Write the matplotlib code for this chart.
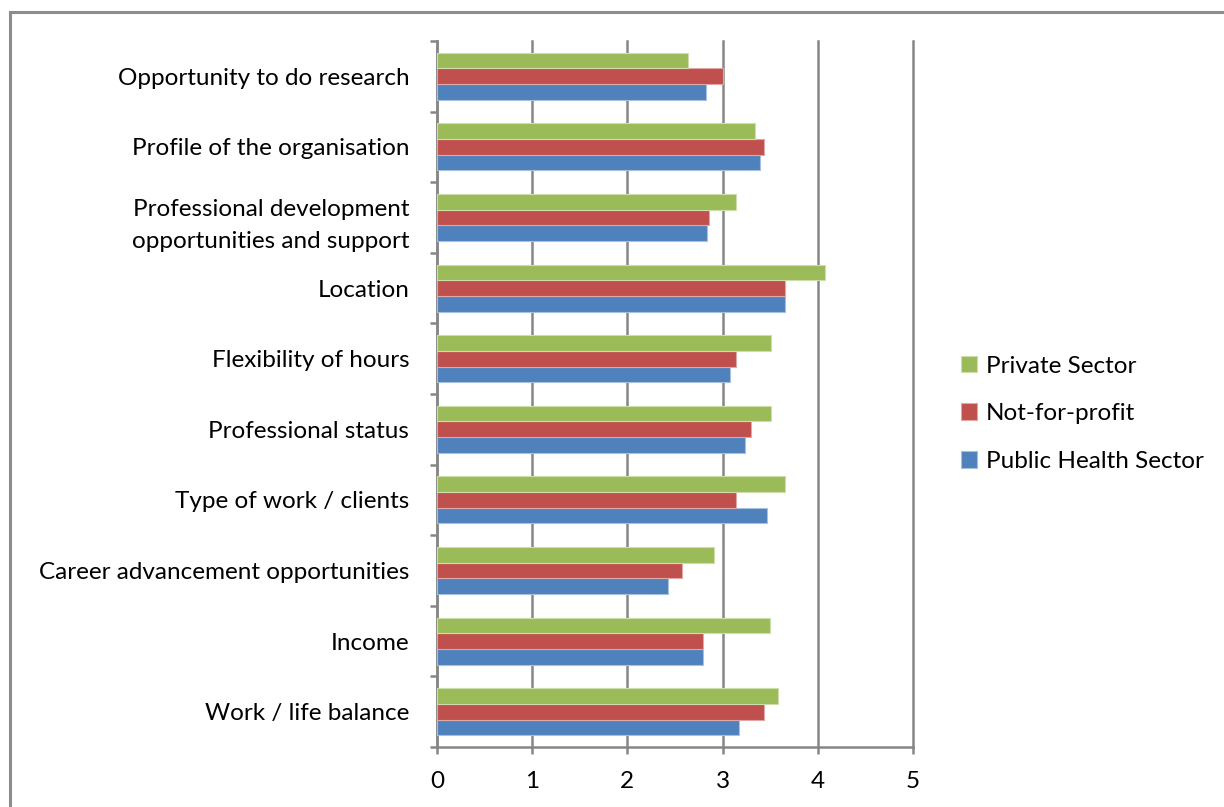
import matplotlib
matplotlib.use('Agg')
import matplotlib.pyplot as plt
import numpy as np
from matplotlib.patches import Rectangle

plt.rcParams['font.family'] = ['Lato', 'DejaVu Sans']

# Facteurs listés de bas en haut
categories = ['Work / life balance', 'Income', 'Career advancement opportunities',
              'Type of work / clients', 'Professional status', 'Flexibility of hours',
              'Location', 'Professional development\nopportunities and support',
              'Profile of the organisation', 'Opportunity to do research']
public_health = [3.17, 2.79, 2.43, 3.47, 3.23, 3.08, 3.65, 2.84, 3.39, 2.82]
not_for_profit = [3.43, 2.79, 2.57, 3.14, 3.30, 3.14, 3.65, 2.86, 3.43, 3.00]
private_sector = [3.58, 3.50, 2.91, 3.65, 3.51, 3.51, 4.07, 3.14, 3.34, 2.64]
series_names = ['Public Health Sector', 'Not-for-profit', 'Private Sector']
x_ticks = [0, 1, 2, 3, 4, 5]

couleurs = ['#4F81BD', '#C0504D', '#9BBB59']
bords = ['#A7C0DE', '#DFA8A6', '#CDDDAC']
taille = 17.5

fig = plt.figure(figsize=(12.24, 8.07), dpi=100)
ax = fig.add_axes([0.357, 0.0743, 0.389, 0.8749])

# Cadre gris autour du graphique
fig.patches.append(Rectangle((9.5 / 1224, -0.1), 1.2, 1 - 11.5 / 807 + 0.1,
                             transform=fig.transFigure, fill=False,
                             edgecolor='#8C8C8C', linewidth=2.2, zorder=0))

y = np.arange(len(categories))
h = 0.222
for i, (vals, nom) in enumerate(zip([public_health, not_for_profit, private_sector], series_names)):
    ax.barh(y + (i - 1) * h, vals, height=h, color=couleurs[i], edgecolor=bords[i],
            linewidth=0.8, label=nom, zorder=3)

ax.set_xlim(0, 5)
ax.set_ylim(-0.5, len(categories) - 0.5)
ax.set_xticks(x_ticks)
ax.set_xticklabels([str(t) for t in x_ticks], fontsize=taille)
ax.xaxis.grid(True, color='#868686', linewidth=1.8, zorder=0)
for gl in ax.get_xgridlines():
    gl.set_clip_on(False)

# Étiquettes des catégories centrées, graduations aux limites
ax.set_yticks(y)
ax.set_yticklabels(categories, fontsize=taille, linespacing=1.65)
ax.tick_params(axis='y', length=0, pad=20)
ax.set_yticks(np.arange(len(categories) + 1) - 0.5, minor=True)
ax.tick_params(axis='y', which='minor', length=5, width=1.8, color='#868686')
ax.tick_params(axis='x', length=5, width=1.8, color='#868686', pad=12)

for s in ['top', 'right']:
    ax.spines[s].set_visible(False)
for s in ['left', 'bottom']:
    ax.spines[s].set_color('#868686')
    ax.spines[s].set_linewidth(1.8)

handles, labels = ax.get_legend_handles_labels()
ax.legend(handles[::-1], labels[::-1], loc='center left', bbox_to_anchor=(1.08, 0.472),
          frameon=False, fontsize=taille, handlelength=0.68, handleheight=0.68,
          handletextpad=0.35, labelspacing=1.1, borderaxespad=0)

fig.savefig('out.png', dpi=100)
